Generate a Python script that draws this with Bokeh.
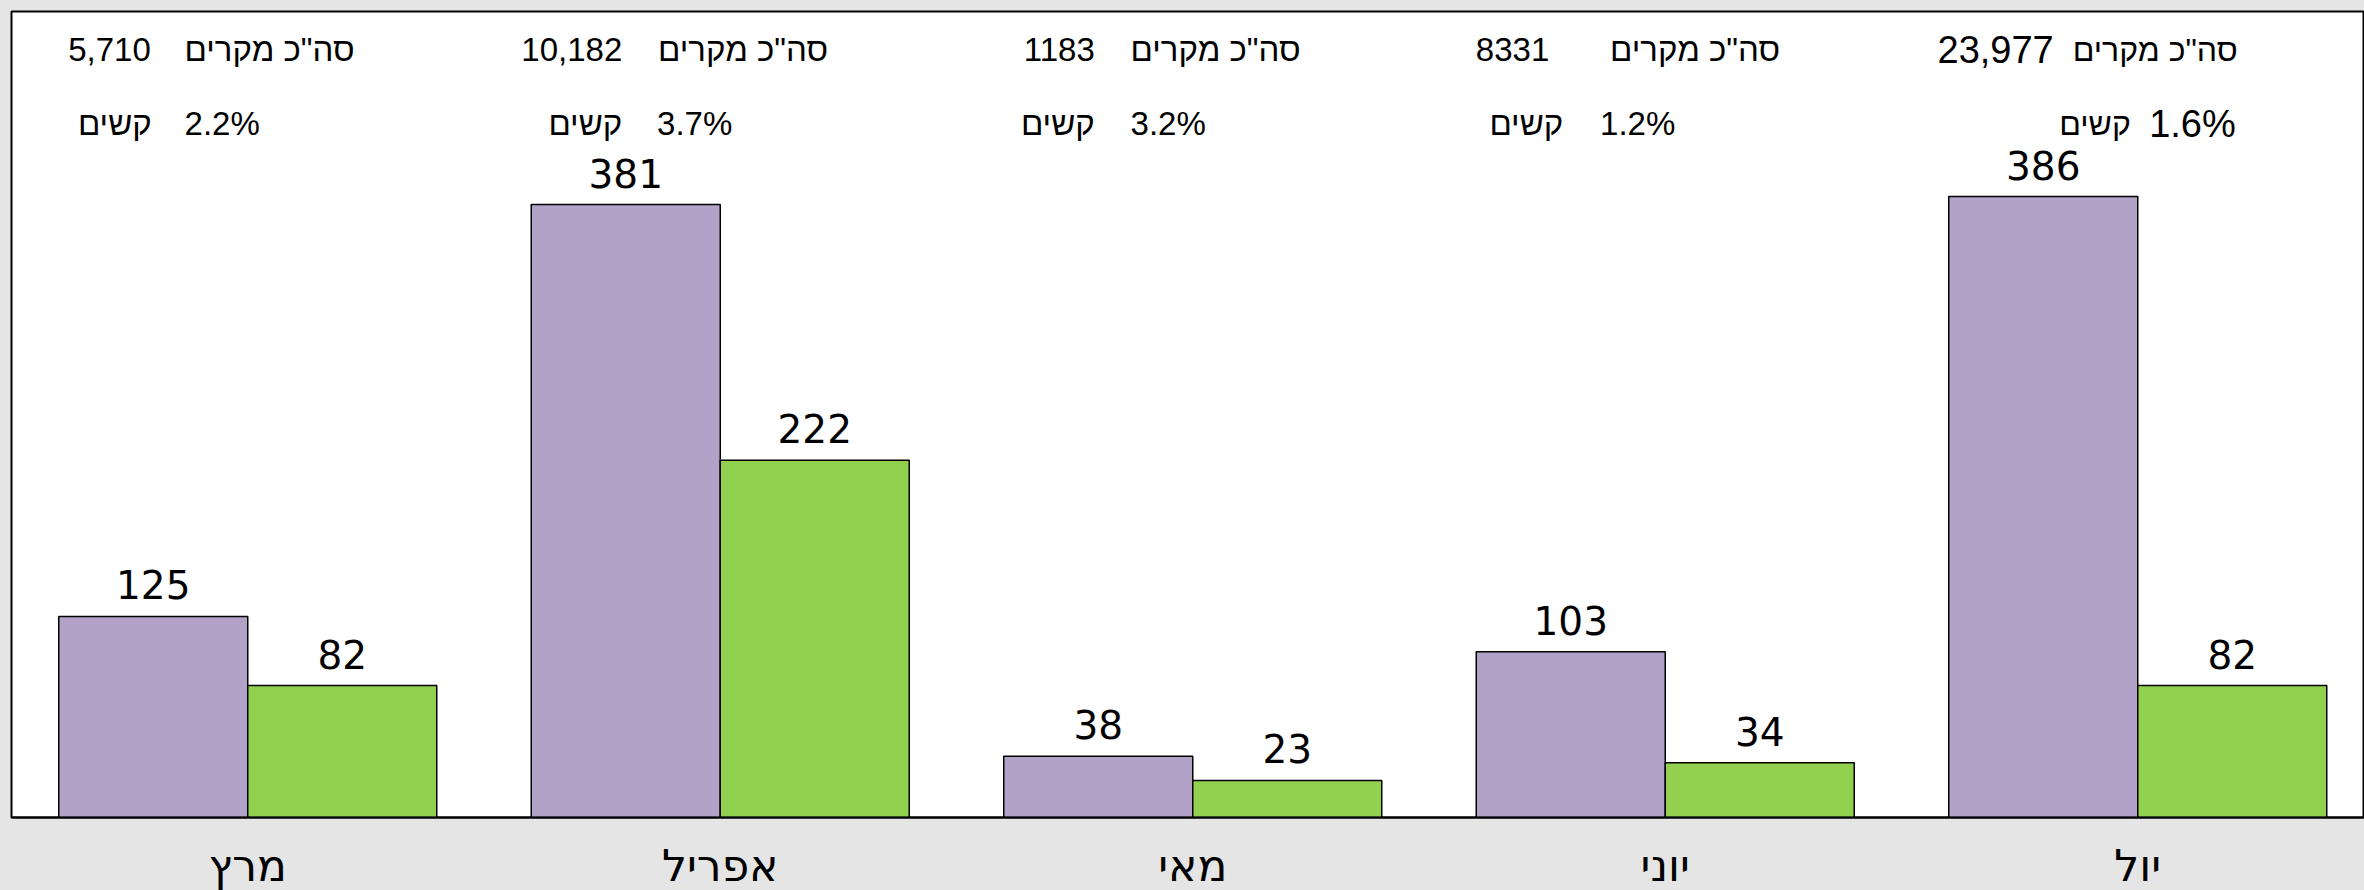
import numpy as np
from bokeh.plotting import figure
from bokeh.models import ColumnDataSource, Range1d, LabelSet, FixedTicker
from bokeh.core.properties import value
from bokeh.embed import file_html
from bokeh.resources import INLINE

# ---- data ----
months = ["מרץ", "אפריל", "מאי", "יוני", "יול"]
series_a = [125, 381, 38, 103, 386]          # purple bars
series_b = [82, 222, 23, 34, 82]             # green bars
total_cases = ["5,710", "10,182", "1183", "8331", "23,977"]
severe_pct = ["2.2%", "3.7%", "3.2%", "1.2%", "1.6%"]
total_label = 'סה"כ מקרים'
severe_label = "קשים"

# ---- layout (px offsets from group centre, right edges of the text pieces) ----
CAT_PX = 472.5
row1_num_off = [-97, -98, -98, -116, -84]
row1_lbl_off = [107, 108, 108, 115, 100]
row2_lbl_off = [-96, -98, -98, -102, -7]
row2_pct_off = [12, 12, 13, 10, 98]
num_font_px = [33, 33, 33, 33, 38]
heb_font_px = [33, 33, 33, 33, 32]

PURPLE = "#b3a2c7"
GREEN = "#92d050"
GREY = "#e5e5e5"

n = len(months)
centers = np.arange(n) + 0.5
px = 1.0 / CAT_PX

FRAME_W, FRAME_H = 2353, 806
Y_TOP = 501
ppu = FRAME_H / Y_TOP

def ydata(px_from_top):
    return Y_TOP - px_from_top / ppu

bars = ColumnDataSource(dict(
    xa=centers - 0.2, xb=centers + 0.2, a=series_a, b=series_b,
    la=[str(v) for v in series_a], lb=[str(v) for v in series_b],
))

p = figure(frame_width=FRAME_W, frame_height=FRAME_H,
           min_border_left=11, min_border_right=0, min_border_top=11, min_border_bottom=0,
           x_range=Range1d(0, FRAME_W / CAT_PX), y_range=Range1d(0, Y_TOP),
           y_axis_type=None,
           output_backend="svg", toolbar_location=None)
p.xgrid.visible = False
p.ygrid.visible = False
p.background_fill_color = "white"
p.border_fill_color = GREY
p.outline_line_color = "black"
p.outline_line_width = 2

xa = p.xaxis[0]
xa.ticker = FixedTicker(ticks=list(centers))
xa.major_label_overrides = {float(c): m for c, m in zip(centers, months)}
xa.major_tick_line_color = None
xa.minor_tick_line_color = None
xa.major_tick_out = 0
xa.major_tick_in = 0
xa.axis_line_color = "black"
xa.axis_line_width = 2
xa.major_label_standoff = 22
xa.major_label_text_font = "DejaVu Sans"
xa.major_label_text_font_size = "44px"
xa.major_label_text_color = "black"

p.vbar(x="xa", top="a", width=0.4, source=bars, fill_color=PURPLE,
       line_color="black", line_width=1.5)
p.vbar(x="xb", top="b", width=0.4, source=bars, fill_color=GREEN,
       line_color="black", line_width=1.5)

for xcol, lcol, ycol in (("xa", "la", "a"), ("xb", "lb", "b")):
    p.add_layout(LabelSet(x=xcol, y=ycol, text=lcol, source=bars, y_offset=17,
                          text_align="center", text_baseline="alphabetic",
                          text_font=value("DejaVu Sans"), text_font_size="39px",
                          text_color="black"))

# top annotation texts
top = ColumnDataSource(dict(
    x_num=centers + np.array(row1_num_off) * px,
    x_lbl1=centers + np.array(row1_lbl_off) * px,
    x_lbl2=centers + np.array(row2_lbl_off) * px,
    x_pct=centers + np.array(row2_pct_off) * px,
    num=total_cases, pct=severe_pct,
    l1=[total_label] * n, l2=[severe_label] * n,
    y1=[ydata(38)] * n, y2=[ydata(112)] * n,
    fn=[f"{v}px" for v in num_font_px],
    fh=[f"{v}px" for v in heb_font_px],
))
for xcol, tcol, ycol, fcol in (("x_num", "num", "y1", "fn"), ("x_lbl1", "l1", "y1", "fh"),
                               ("x_lbl2", "l2", "y2", "fh"), ("x_pct", "pct", "y2", "fn")):
    p.text(x=xcol, y=ycol, text=tcol, source=top, text_align="right",
           text_baseline="alphabetic", text_font=value("Liberation Sans"),
           text_font_size=fcol, text_color="black")

html = file_html(p, INLINE)
i = html.rfind("<body")
if i >= 0:
    html = html[:i] + '<body style="background-color:#e5e5e5;"' + html[i + 5:]
open("out.html", "w").write(html)
